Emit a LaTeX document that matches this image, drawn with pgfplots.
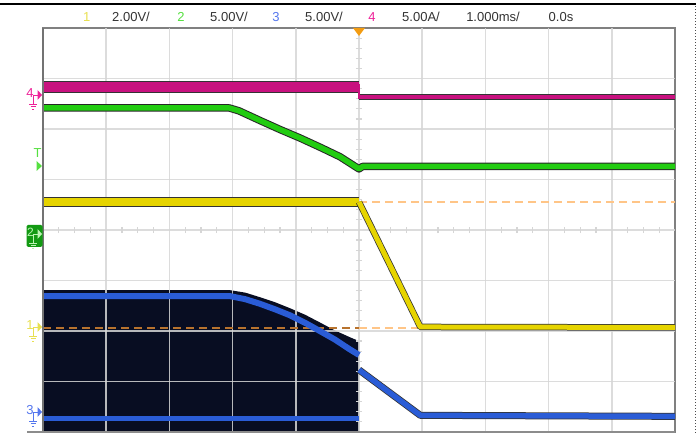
\documentclass[border=0pt]{standalone}
\usepackage{pgfplots}
\pgfplotsset{compat=1.18}
\usepackage{fontspec}
\setmainfont{Liberation Sans}
\definecolor{cmag}{HTML}{C8127F}
\definecolor{cgrn}{HTML}{22CC11}
\definecolor{cyel}{HTML}{E6D400}
\definecolor{cblu}{HTML}{2A5CD6}
\definecolor{cnavy}{HTML}{080D22}
\definecolor{corg}{HTML}{FFC587}
\definecolor{corgd}{HTML}{B8732E}
\definecolor{cgrid}{HTML}{D6D6D6}
\definecolor{ctrig}{HTML}{F39C12}
\definecolor{htxt}{HTML}{333333}
\definecolor{l1}{HTML}{E8E050}
\definecolor{l2}{HTML}{55E040}
\definecolor{l3}{HTML}{5577EE}
\definecolor{l4}{HTML}{EE2299}
\definecolor{gbox}{HTML}{139A13}
\begin{document}
\begin{tikzpicture}[x=1pt,y=1pt]
\useasboundingbox (0,0) rectangle (696,433);
\fill[white] (0,0) rectangle (696,433);
% top black line and right dotted edge
\draw[black, line width=2pt] (0,428.5) -- (696,428.5);
\draw[black!70, line width=1pt, dotted] (695,0) -- (695,428);
% header
\begin{scope}[font=\fontsize{13}{15}\selectfont]
\node[l1] at (86.7,416) {1};
\node[htxt] at (131,416) {2.00V/};
\node[l2] at (181,416) {2};
\node[htxt] at (229,416) {5.00V/};
\node[l3] at (276,416) {3};
\node[htxt] at (324,416) {5.00V/};
\node[l4] at (372,416) {4};
\node[htxt] at (421,416) {5.00A/};
\node[htxt] at (493,416) {1.000ms/};
\node[htxt] at (561,416) {0.0s};
\end{scope}
\begin{axis}[at={(43pt,1pt)}, anchor=south west, width=632pt, height=404pt,
  scale only axis, xmin=0, xmax=10, ymin=0, ymax=8, ticks=none,
  axis line style={draw=black!50, line width=1.2pt}]
% noisy channel 3 envelope (dark fill)
\addplot[fill=cnavy, draw=none] coordinates {(0,0) (0,2.81) (2.95,2.81) (3.20,2.76) (3.43,2.67) (3.67,2.57) (3.91,2.45) (4.15,2.32) (4.38,2.17) (4.62,2.01) (4.85,1.88) (5.0,1.80) (5.0,0)} \closedcycle;
% grid
\pgfplotsinvokeforeach{1,2,3,4,5,6,7,8,9}{\draw[cgrid, opacity=0.85, line width=1.5pt] (axis cs:#1,0) -- (axis cs:#1,8);}
\pgfplotsinvokeforeach{1,2,3,4,5,6,7}{\draw[cgrid, opacity=0.85, line width=1.5pt] (axis cs:0,#1) -- (axis cs:10,#1);}
% centre ticks
\pgfplotsinvokeforeach{0.25,0.5,0.75,1.25,1.5,1.75,2.25,2.5,2.75,3.25,3.5,3.75,4.25,4.5,4.75,5.25,5.5,5.75,6.25,6.5,6.75,7.25,7.5,7.75,8.25,8.5,8.75,9.25,9.5,9.75}{\draw[cgrid, line width=1.2pt] (axis cs:#1,3.94) -- (axis cs:#1,4.06);}
\pgfplotsinvokeforeach{0.2,0.4,0.6,0.8,1.2,1.4,1.6,1.8,2.2,2.4,2.6,2.8,3.2,3.4,3.6,3.8,4.2,4.4,4.6,4.8,5.2,5.4,5.6,5.8,6.2,6.4,6.6,6.8,7.2,7.4,7.6,7.8}{\draw[cgrid, line width=1.2pt] (axis cs:4.95,#1) -- (axis cs:5.05,#1);}
% dashed reference levels
\addplot[corgd, line width=2pt, dash pattern=on 8pt off 5pt] coordinates {(0,2.06) (5,2.06)};
\addplot[corg, line width=2pt, dash pattern=on 8pt off 5pt] coordinates {(5,2.06) (10,2.06)};
\addplot[corg, line width=2pt, dash pattern=on 8pt off 5pt] coordinates {(5,4.554) (10,4.554)};
% channel 4 (magenta)
\addplot[black!80, line width=11.5pt] coordinates {(0,6.832) (5,6.832)};
\addplot[cmag, line width=9.5pt] coordinates {(0,6.832) (5,6.832)};
\addplot[black!80, line width=6.5pt] coordinates {(5,6.634) (10,6.634)};
\addplot[cmag, line width=4.8pt] coordinates {(5,6.634) (10,6.634)};
\addplot[cmag, line width=2pt] coordinates {(5,6.90) (5,6.60)};
% channel 2 (green)
\addplot[black!85, line width=7.5pt, line join=round] coordinates {(0,6.416) (2.95,6.416) (3.10,6.36) (3.43,6.17) (3.75,5.99) (4.07,5.82) (4.40,5.63) (4.70,5.45) (5.0,5.21) (5.06,5.26) (10,5.26)};
\addplot[cgrn, line width=5.5pt, line join=round] coordinates {(0,6.416) (2.95,6.416) (3.10,6.36) (3.43,6.17) (3.75,5.99) (4.07,5.82) (4.40,5.63) (4.70,5.45) (5.0,5.21) (5.06,5.26) (10,5.26)};
% channel 1 (yellow)
\addplot[black!80, line width=9.5pt] coordinates {(0,4.554) (5,4.554)};
\addplot[cyel, line width=7.5pt] coordinates {(0,4.554) (5,4.554)};
\addplot[black!80, line width=6.5pt, line join=round] coordinates {(5,4.554) (5.97,2.08) (10,2.07)};
\addplot[cyel, line width=5pt, line join=round] coordinates {(5,4.554) (5.97,2.08) (10,2.07)};
% channel 3 (blue)
\addplot[cblu, line width=6pt, line join=round] coordinates {(0,2.693) (2.95,2.693) (3.20,2.63) (3.43,2.54) (3.67,2.43) (3.91,2.31) (4.15,2.16) (4.38,2.00) (4.62,1.83) (4.85,1.64) (5.0,1.525)};
\addplot[cblu, line width=5pt] coordinates {(0,0.27) (5,0.27)};
\addplot[black!80, line width=7pt, line join=round] coordinates {(5.0,1.23) (5.97,0.33) (10,0.31)};
\addplot[cblu, line width=5.5pt, line join=round] coordinates {(5.0,1.23) (5.97,0.33) (10,0.31)};
\end{axis}
% left border darker, bottom line
\draw[black!55, line width=2pt] (43,1) -- (43,405);
\draw[black!45, line width=1.5pt] (27,1) -- (675,1);
% trigger marker
\fill[ctrig] (353,405) -- (365,405) -- (359,397) -- cycle;
% channel markers
\newcommand{\gnd}[3]{%
  \draw[#1, line width=0.9pt] (#2+3,#3-3) -- (#2+3,#3-9);
  \draw[#1, line width=0.9pt] (#2-1,#3-9) -- (#2+7,#3-9);
  \draw[#1, line width=0.9pt] (#2+0.5,#3-11.5) -- (#2+5.5,#3-11.5);
  \draw[#1, line width=0.9pt] (#2+2,#3-14) -- (#2+4,#3-14);
  \fill[#1] (#2+7.5,#3+5) -- (#2+12,#3) -- (#2+7.5,#3-5) -- cycle;
  \draw[#1, line width=0.9pt] (#2+3,#3-3) -- (#2+3,#3) -- (#2+8,#3);}
\node[l4, font=\fontsize{13}{15}\selectfont] at (30,340) {4};
\gnd{l4}{30}{338}
\node[l2, font=\fontsize{13}{15}\selectfont] at (37.5,280) {T};
\fill[l2] (36.5,272) -- (42,267) -- (36.5,262) -- cycle;
\fill[gbox, rounded corners=1.5pt] (26.5,186) rectangle (42.5,208);
\node[l2!40!white, font=\fontsize{12}{14}\selectfont] at (30.5,201) {2};
\gnd{l2!40!white}{30}{199}
\node[l1, font=\fontsize{13}{15}\selectfont] at (30,108) {1};
\gnd{l1}{30}{106}
\node[l3, font=\fontsize{13}{15}\selectfont] at (30,23) {3};
\gnd{l3}{30}{21}
\end{tikzpicture}
\end{document}
